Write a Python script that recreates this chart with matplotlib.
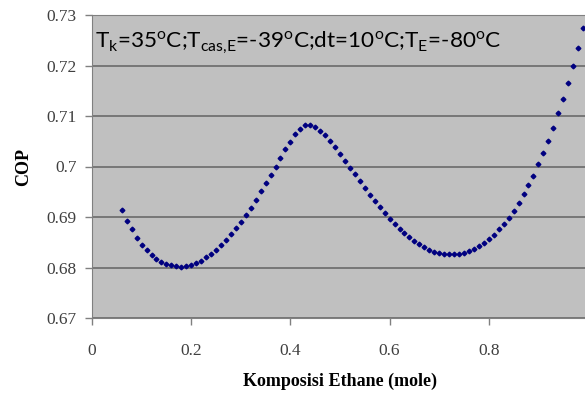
import numpy as np
import matplotlib
matplotlib.use('Agg')
import matplotlib.pyplot as plt
from matplotlib.pyplot import MultipleLocator


# Data (x step 0.01 from 0.06 to 0.99)
komposisi = np.round(np.arange(6, 100) / 100.0, 2)
cop = [0.6914, 0.6893, 0.6876, 0.6859, 0.6845, 0.6835, 0.6825, 0.6817, 0.6810, 0.6806,
       0.6804, 0.6802, 0.6801, 0.6803, 0.6805, 0.6809, 0.6813, 0.6820, 0.6827, 0.6835,
       0.6844, 0.6855, 0.6866, 0.6878, 0.6890, 0.6904, 0.6918, 0.6934, 0.6951, 0.6967,
       0.6983, 0.7000, 0.7016, 0.7034, 0.7049, 0.7064, 0.7074, 0.7082, 0.7082, 0.7078,
       0.7071, 0.7062, 0.7050, 0.7039, 0.7025, 0.7011, 0.6998, 0.6985, 0.6971, 0.6957,
       0.6944, 0.6932, 0.6919, 0.6907, 0.6897, 0.6886, 0.6877, 0.6868, 0.6860, 0.6852,
       0.6846, 0.6840, 0.6835, 0.6831, 0.6829, 0.6826, 0.6826, 0.6826, 0.6826, 0.6829,
       0.6833, 0.6837, 0.6842, 0.6849, 0.6856, 0.6864, 0.6876, 0.6886, 0.6898, 0.6912,
       0.6928, 0.6945, 0.6963, 0.6982, 0.7004, 0.7026, 0.7050, 0.7076, 0.7105, 0.7134,
       0.7166, 0.7199, 0.7235, 0.7275]

xlabel = 'Komposisi Ethane (mole)'
ylabel = 'COP'
note = (r'T$_\mathregular{k}$=35$^\mathregular{o}$C;'
        r'T$_\mathregular{cas{,}E}$=-39$^\mathregular{o}$C;'
        r'dt=10$^\mathregular{o}$C;'
        r'T$_\mathregular{E}$=-80$^\mathregular{o}$C')

# Plot setting
font_label = {'family': 'Liberation Serif', 'weight': 'bold', 'size': 13}

fig = plt.figure(figsize=(5.85, 3.94), dpi=100)
ax = fig.add_axes([92/585, 1-318/394, 496/585, 303/394])
ax.set_facecolor('#c0c0c0')

ax.set_xlim(0, 1.0)
ax.set_ylim(0.67, 0.73)
ax.yaxis.set_major_locator(MultipleLocator(0.01))
ax.set_xticks([0, 0.2, 0.4, 0.6, 0.8])
ax.set_xticklabels(['0', '0.2', '0.4', '0.6', '0.8'])
ax.set_yticklabels(['%.2f' % v if abs(v - 0.70) > 1e-6 else '0.7'
                    for v in ax.get_yticks()])

ax.tick_params(axis='both', direction='out', length=5, width=1, color='#808080',
               labelcolor='#404040', labelsize=12.5)
ax.tick_params(axis='x', pad=13)
ax.tick_params(axis='y', pad=6)
for lab in ax.get_xticklabels() + ax.get_yticklabels():
    lab.set_family('Liberation Serif')

ax.yaxis.grid(True, color='#6a6a6a', linewidth=1.2)
ax.set_axisbelow(True)
for side in ['left', 'bottom', 'top']:
    ax.spines[side].set_color('#808080')
ax.spines['right'].set_visible(False)

ax.set_xlabel(xlabel, fontdict=font_label, labelpad=10)
ax.set_ylabel(ylabel, fontdict=font_label, labelpad=10)

# Plot
ax.plot(komposisi, cop, linestyle='none', marker='D', markersize=2.4,
        color='#000080', clip_on=False)

ax.text(0.006, 0.952, note, transform=ax.transAxes, ha='left', va='top',
        fontsize=16.2, family='Lato', color='black')

plt.savefig('out.png', dpi=100)
